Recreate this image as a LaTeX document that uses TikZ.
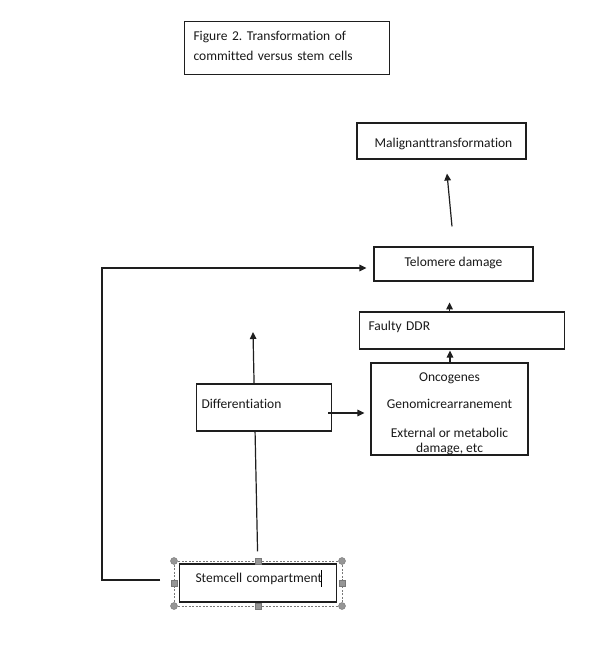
\documentclass[tikz,border=0pt]{standalone}
\usepackage{fontspec}
\setmainfont{Carlito}[Ligatures={NoCommon}]
\usetikzlibrary{arrows.meta,calc,backgrounds}
\newcommand{\upby}[2]{\raisebox{#1}[\height][\depth]{#2}}
\definecolor{linecol}{RGB}{30,30,30}
\definecolor{txtcol}{RGB}{25,25,25}
\definecolor{handlefill}{RGB}{150,150,150}
\definecolor{handledraw}{RGB}{120,120,120}
\frenchspacing
\begin{document}
\begin{tikzpicture}[x=1pt,y=-1pt,
  boxnode/.style={draw=linecol, fill=white, line width=1.1pt, inner sep=0pt, text=txtcol,
    font=\fontsize{13.5}{16.5}\selectfont},
  conn/.style={draw=linecol, line width=1.2pt, -{Triangle[length=7pt,width=6.5pt]}},
  handlecirc/.style={circle, fill=handlefill, draw=handledraw, line width=0.4pt, minimum size=7pt, inner sep=0pt},
  handlesq/.style={rectangle, fill=handlefill, draw=handledraw, line width=0.4pt, minimum size=6pt, inner sep=0pt},
  selframe/.style={draw=handledraw, line width=0.7pt, dash pattern=on 2pt off 1.5pt}
]
\useasboundingbox (0,0) rectangle (593,650);

% boxes
\node[boxnode, anchor=north west, minimum width=205pt, minimum height=53pt,
      text width=187pt, inner xsep=9pt, align=left, font=\fontsize{13.5}{20}\selectfont]
  (title) at (184,21) {\upby{2.5pt}{Figure 2. Transformation of}\\\upby{2.5pt}{committed versus stem cells}};

\node[boxnode, minimum width=169pt, minimum height=36pt] (malig) at (441.5,141)
  {\upby{-3pt}{\hspace{4pt}Malignanttransformation}};

\node[boxnode, minimum width=159pt, minimum height=34pt] (telo) at (453.5,264)
  {\upby{1pt}{Telomere damage}};

\node[boxnode, anchor=west, minimum width=205pt, minimum height=37pt,
      text width=187pt, inner xsep=9pt, align=left] (faulty) at (359,330.5)
  {\upby{3.5pt}{Faulty DDR}};

\node[boxnode, minimum width=157pt, minimum height=92pt, align=center] (onc) at (449.5,409)
  {\upby{-5pt}{Oncogenes}\\[10.5pt]\upby{-5pt}{Genomicrearranement}\\[12.5pt]\upby{-5pt}{External or metabolic}\\[-1pt]\upby{-5pt}{damage, etc}};

\node[boxnode, anchor=west, minimum width=135pt, minimum height=47pt,
      text width=125pt, inner xsep=5pt, align=left] (diff) at (196,407.5)
  {\upby{3.5pt}{Differentiation}};

\node[boxnode, anchor=west, minimum width=157pt, minimum height=38pt,
      text width=125pt, inner xsep=16pt, align=left] (stem) at (179,583)
  {\upby{4pt}{Stemcell compartment}};

% selection frame and handles around the stemcell box
\draw[selframe] (174,561) rectangle (342,606);
\node[handlecirc] (h1) at (174,561) {};
\node[handlecirc] (h2) at (342,561) {};
\node[handlecirc] (h3) at (174,606) {};
\node[handlecirc] (h4) at (342,606) {};
\node[handlesq] (h5) at (258,561) {};
\node[handlesq] (h6) at (258,606) {};
\node[handlesq] (h7) at (174,583.5) {};
\node[handlesq] (h8) at (342,583.5) {};
% text cursor
\draw[black, line width=1pt] (321,570) -- (321,587);

% connectors
\coordinate (stemL) at ($(stem.west)+(-19,-3)$);
\coordinate (leftTop) at (102,268);
\draw[conn] (stemL) -| (leftTop) -- ($(telo.west)+(-7,4)$);

\coordinate (stemUp) at ($(stem.north)+(-0.5,-12)$);
\coordinate (upTip) at (253,332);
\begin{pgfonlayer}{background}
  \fill[white] (0,0) rectangle (593,650);
  \draw[conn] (stemUp) -- (upTip);
\end{pgfonlayer}

\draw[conn] ($(diff.east)+(-4,5.5)$) -- ($(onc.west)+(-6,4)$);
\draw[conn] ($(onc.north)+(0.5,0)$) -- ($(onc.north |- faulty.south)+(0.5,1)$);
\draw[conn] ($(faulty.north)+(-12.5,0)$) -- ($(faulty.north)+(-12.5,-9)$);
\draw[conn] ($(telo.north)+(-1.5,-20)$) -- ($(malig.south)+(5.5,14)$);
\end{tikzpicture}
\end{document}
